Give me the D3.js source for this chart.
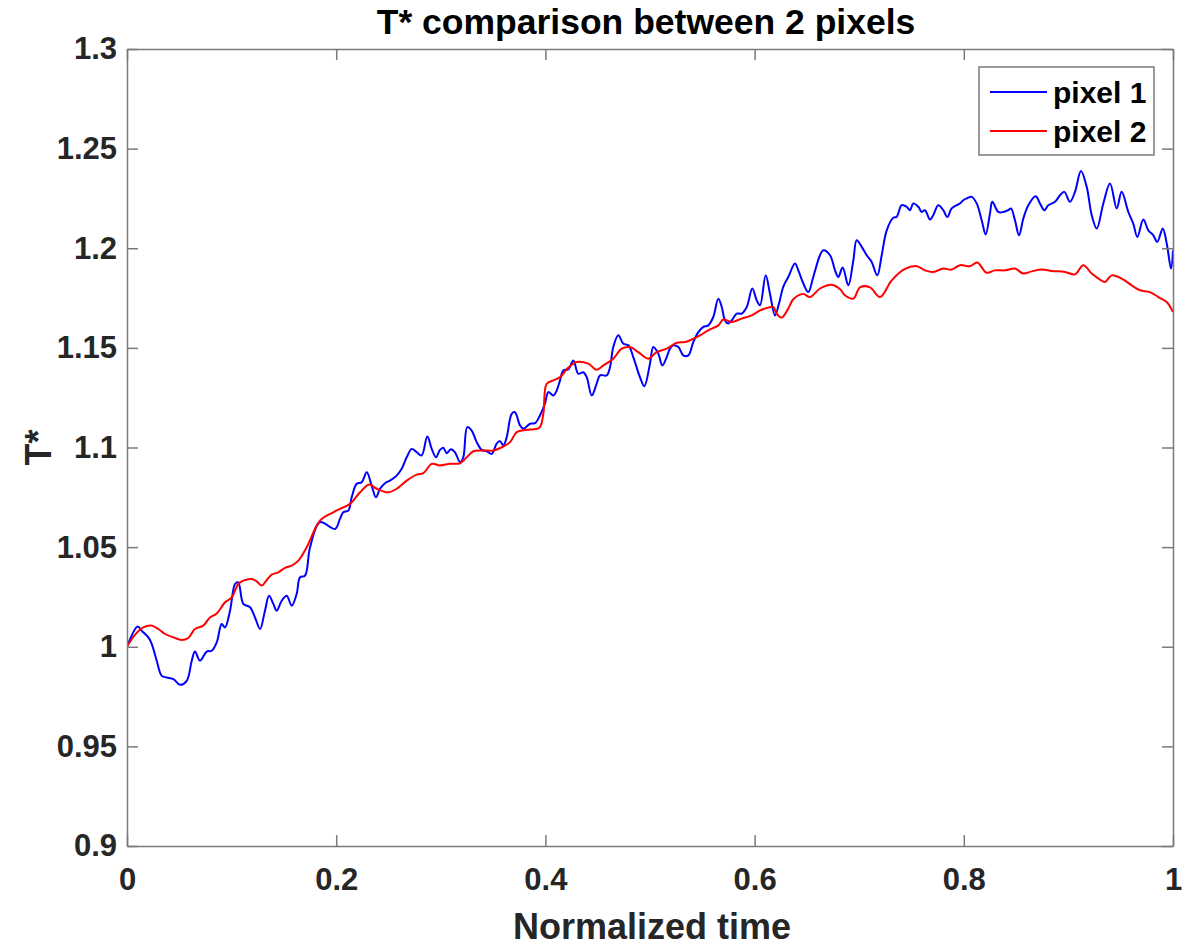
<!DOCTYPE html>
<html>
<head>
<meta charset="utf-8">
<script src="https://cdn.jsdelivr.net/npm/d3@7"></script>
<style>
  body { margin: 0; background: #fff; }
  text { font-family: "Liberation Sans", Arial, Helvetica, sans-serif; font-weight: bold; }
</style>
</head>
<body>
<svg id="chart" width="1193" height="947"></svg>
<script>
// pixel 1 (blue)
const timeP1 = [0, 0.0102, 0.0141, 0.0204, 0.0236, 0.0284, 0.0332, 0.0380, 0.0443, 0.0507, 0.0571, 0.0619, 0.0650, 0.0698, 0.0762, 0.0810, 0.0858, 0.0905, 0.0937, 0.0985,
  0.1033, 0.1064, 0.1112, 0.1176, 0.1224, 0.1272, 0.1319, 0.1358, 0.1399, 0.1431, 0.1479, 0.1527, 0.1575, 0.1622, 0.1654, 0.1702, 0.1750, 0.1845, 0.1989,
  0.2036, 0.2068, 0.2116, 0.2148, 0.2196, 0.2244, 0.2292, 0.2339, 0.2380, 0.2419, 0.2467, 0.2514, 0.2578, 0.2626, 0.2674, 0.2722, 0.2770, 0.2817, 0.2871, 0.2913, 0.2954, 0.2992,
  0.3024, 0.3056, 0.3095, 0.3136, 0.3184, 0.3215, 0.3253, 0.3295, 0.3343, 0.3391, 0.3439, 0.3487, 0.3534, 0.3566, 0.3598, 0.3630, 0.3678, 0.3709, 0.3757, 0.3789, 0.3853, 0.3901, 0.3948, 0.3996,
  0.4028, 0.4076, 0.4108, 0.4140, 0.4171, 0.4219, 0.4267, 0.4315, 0.4362, 0.4395, 0.4443, 0.4490, 0.4522, 0.4586, 0.4618, 0.4649, 0.4697, 0.4745, 0.4793, 0.4840, 0.4904, 0.4946,
  0.5000, 0.5032, 0.5079, 0.5118, 0.5160, 0.5191, 0.5223, 0.5271, 0.5318, 0.5366, 0.5414, 0.5462, 0.5510, 0.5557, 0.5605, 0.5653, 0.5686, 0.5717, 0.5749, 0.5781, 0.5829, 0.5877, 0.5925, 0.5978,
  0.6020, 0.6052, 0.6106, 0.6147, 0.6195, 0.6233, 0.6274, 0.6322, 0.6386, 0.6418, 0.6466, 0.6513, 0.6561, 0.6625, 0.6657, 0.6721, 0.6769, 0.6800, 0.6842, 0.6896, 0.6944, 0.6976,
  0.7024, 0.7072, 0.7119, 0.7173, 0.7215, 0.7263, 0.7326, 0.7358, 0.7406, 0.7454, 0.7486, 0.7517, 0.7565, 0.7598, 0.7629, 0.7677, 0.7708, 0.7756, 0.7804, 0.7842, 0.7884, 0.7932, 0.7964, 0.7995,
  0.8028, 0.8076, 0.8123, 0.8171, 0.8209, 0.8250, 0.8273, 0.8330, 0.8378, 0.8425, 0.8451, 0.8489, 0.8528, 0.8569, 0.8617, 0.8687, 0.8728, 0.8770, 0.8808, 0.8872, 0.8920, 0.8961,
  0.9015, 0.9063, 0.9120, 0.9175, 0.9223, 0.9271, 0.9334, 0.9398, 0.9462, 0.9509, 0.9573, 0.9620, 0.9659, 0.9716, 0.9764, 0.9812, 0.9850, 0.9902, 0.9940, 0.9981, 1.0];
const tempP1 = [1.0000, 1.0102, 1.0080, 1.0047, 1.0015, 0.9930, 0.9854, 0.9846, 0.9838, 0.9809, 0.9829, 0.9930, 0.9976, 0.9930, 0.9976, 0.9980, 1.0022, 1.0114, 1.0097, 1.0181,
  1.0315, 1.0323, 1.0215, 1.0198, 1.0147, 1.0089, 1.0181, 1.0256, 1.0215, 1.0181, 1.0231, 1.0256, 1.0206, 1.0265, 1.0348, 1.0357, 1.0499, 1.0625, 1.0591,
  1.0642, 1.0675, 1.0683, 1.0750, 1.0818, 1.0826, 1.0876, 1.0809, 1.0750, 1.0793, 1.0821, 1.0834, 1.0859, 1.0893, 1.0951, 1.0993, 1.0976, 1.0960, 1.1055, 1.0993, 1.0951, 1.0988,
  1.0999, 1.0971, 1.0991, 1.0976, 1.0926, 1.0951, 1.1102, 1.1085, 1.1027, 1.0988, 1.0981, 1.0968, 1.1019, 1.1032, 1.1010, 1.1052, 1.1169, 1.1177, 1.1111, 1.1094, 1.1119, 1.1122, 1.1161, 1.1220,
  1.1278, 1.1261, 1.1286, 1.1337, 1.1387, 1.1392, 1.1437, 1.1370, 1.1378, 1.1353, 1.1261, 1.1320, 1.1362, 1.1362, 1.1404, 1.1504, 1.1563, 1.1521, 1.1513, 1.1454, 1.1353, 1.1308,
  1.1421, 1.1504, 1.1471, 1.1412, 1.1454, 1.1496, 1.1513, 1.1504, 1.1462, 1.1462, 1.1529, 1.1579, 1.1605, 1.1613, 1.1655, 1.1747, 1.1705, 1.1638, 1.1622, 1.1638, 1.1672, 1.1672, 1.1705, 1.1798,
  1.1739, 1.1714, 1.1864, 1.1772, 1.1663, 1.1722, 1.1806, 1.1856, 1.1923, 1.1889, 1.1823, 1.1780, 1.1856, 1.1965, 1.1990, 1.1965, 1.1889, 1.1856, 1.1903, 1.1814, 1.1940, 1.2040,
  1.2007, 1.1965, 1.1931, 1.1864, 1.1965, 1.2090, 1.2153, 1.2157, 1.2216, 1.2208, 1.2191, 1.2225, 1.2208, 1.2182, 1.2191, 1.2144, 1.2166, 1.2216, 1.2191, 1.2157, 1.2200, 1.2216, 1.2225, 1.2241,
  1.2250, 1.2258, 1.2225, 1.2141, 1.2069, 1.2174, 1.2233, 1.2182, 1.2182, 1.2191, 1.2200, 1.2141, 1.2065, 1.2149, 1.2216, 1.2261, 1.2225, 1.2191, 1.2216, 1.2233, 1.2266, 1.2283,
  1.2233, 1.2283, 1.2388, 1.2308, 1.2166, 1.2099, 1.2225, 1.2325, 1.2200, 1.2283, 1.2182, 1.2124, 1.2057, 1.2144, 1.2090, 1.2065, 1.2032, 1.2099, 1.2024, 1.1898, 1.1990];

// pixel 2 (red)
const timeP2 = [0, 0.0076, 0.0156, 0.0236, 0.0299, 0.0363, 0.0443, 0.0523, 0.0586, 0.0650, 0.0729, 0.0793, 0.0858, 0.0937,
  0.1001, 0.1064, 0.1112, 0.1192, 0.1240, 0.1288, 0.1336, 0.1383, 0.1446, 0.1511, 0.1575, 0.1638, 0.1718, 0.1845, 0.1972,
  0.2036, 0.2132, 0.2228, 0.2316, 0.2387, 0.2498, 0.2578, 0.2674, 0.2770, 0.2833, 0.2913, 0.2992,
  0.3088, 0.3184, 0.3248, 0.3311, 0.3406, 0.3502, 0.3598, 0.3662, 0.3726, 0.3821, 0.3942, 0.3980,
  0.4012, 0.4076, 0.4140, 0.4219, 0.4299, 0.4410, 0.4490, 0.4554, 0.4649, 0.4729, 0.4809, 0.4888, 0.4984,
  0.5064, 0.5160, 0.5255, 0.5335, 0.5414, 0.5478, 0.5557, 0.5653, 0.5701, 0.5781, 0.5877, 0.5972,
  0.6052, 0.6131, 0.6179, 0.6211, 0.6259, 0.6322, 0.6370, 0.6466, 0.6530, 0.6625, 0.6737, 0.6817, 0.6864, 0.6944,
  0.7008, 0.7103, 0.7199, 0.7311, 0.7438, 0.7550, 0.7629, 0.7708, 0.7804, 0.7884, 0.7964,
  0.8059, 0.8129, 0.8219, 0.8298, 0.8394, 0.8489, 0.8569, 0.8649, 0.8745, 0.8841, 0.8967,
  0.9063, 0.9142, 0.9223, 0.9302, 0.9350, 0.9414, 0.9509, 0.9605, 0.9685, 0.9780, 0.9860, 0.9940, 1.0];
const tempP2 = [1.0000, 1.0060, 1.0097, 1.0106, 1.0089, 1.0064, 1.0047, 1.0034, 1.0044, 1.0089, 1.0106, 1.0147, 1.0167, 1.0223,
  1.0248, 1.0315, 1.0332, 1.0340, 1.0328, 1.0307, 1.0335, 1.0362, 1.0373, 1.0396, 1.0407, 1.0432, 1.0499, 1.0633, 1.0675,
  1.0692, 1.0717, 1.0775, 1.0814, 1.0793, 1.0775, 1.0793, 1.0834, 1.0864, 1.0871, 1.0918, 1.0910,
  1.0918, 1.0921, 1.0951, 1.0981, 1.0985, 1.0985, 1.1005, 1.1027, 1.1077, 1.1089, 1.1099, 1.1169,
  1.1320, 1.1337, 1.1353, 1.1401, 1.1429, 1.1421, 1.1390, 1.1412, 1.1446, 1.1496, 1.1504, 1.1479, 1.1446,
  1.1479, 1.1496, 1.1526, 1.1529, 1.1546, 1.1563, 1.1588, 1.1613, 1.1642, 1.1630, 1.1647, 1.1663,
  1.1688, 1.1702, 1.1705, 1.1672, 1.1652, 1.1697, 1.1744, 1.1770, 1.1755, 1.1798, 1.1817, 1.1794, 1.1764, 1.1747,
  1.1804, 1.1804, 1.1755, 1.1839, 1.1896, 1.1910, 1.1889, 1.1881, 1.1898, 1.1893, 1.1915,
  1.1910, 1.1928, 1.1877, 1.1889, 1.1889, 1.1898, 1.1873, 1.1884, 1.1893, 1.1886, 1.1881,
  1.1869, 1.1915, 1.1873, 1.1843, 1.1831, 1.1864, 1.1848, 1.1814, 1.1789, 1.1780, 1.1755, 1.1730, 1.1680];

const seriesNames = ["pixel 1", "pixel 2"];
const seriesColors = ["#0000ff", "#ff0000"];
const xTicks = [0, 0.2, 0.4, 0.6, 0.8, 1];
const yTicks = [0.9, 0.95, 1, 1.05, 1.1, 1.15, 1.2, 1.25, 1.3];

const largeur = 1193, hauteur = 947;
const margin = { top: 49, right: 20, bottom: 101, left: 127 };
const w = largeur - margin.left - margin.right,
      h = hauteur - margin.top - margin.bottom;

const svg = d3.select("#chart");
const g = svg.append("g").attr("transform", "translate(" + margin.left + "," + margin.top + ")");

const x = d3.scaleLinear().domain([0, 1]).range([0, w]);
const y = d3.scaleLinear().domain([0.9, 1.3]).range([h, 0]);
const fmt = d3.format("~g");

const axisColor = "#7a7a7a", txtColor = "#262626";

g.append("rect").attr("width", w).attr("height", h).attr("fill", "#fff");

g.append("clipPath").attr("id", "clip")
    .append("rect").attr("width", w).attr("height", h);

const line = d3.line()
    .x((d) => x(d[0]))
    .y((d) => y(d[1]))
    .curve(d3.curveCatmullRom.alpha(0.5));

const series = [
    d3.zip(timeP1, tempP1),
    d3.zip(timeP2, tempP2)
];

g.append("g").attr("clip-path", "url(#clip)")
    .selectAll("path")
    .data(series)
    .enter()
    .append("path")
    .attr("d", line)
    .attr("fill", "none")
    .attr("stroke", (d, i) => seriesColors[i])
    .attr("stroke-width", 2)
    .attr("stroke-linejoin", "round");

// axes, ticks pointing inward on all four sides
const styleAxis = (sel) => {
    sel.select(".domain").attr("stroke", axisColor).attr("stroke-width", 1.5);
    sel.selectAll(".tick line").attr("stroke", axisColor).attr("stroke-width", 1.5);
    sel.selectAll(".tick text").attr("fill", txtColor).style("font-size", "31px").style("font-weight", "bold");
};

g.append("g").attr("transform", "translate(0," + h + ")")
    .call(d3.axisBottom(x).tickValues(xTicks).tickFormat(fmt).tickSizeInner(-11).tickSizeOuter(0).tickPadding(22))
    .call(styleAxis);
g.append("g")
    .call(d3.axisTop(x).tickValues(xTicks).tickFormat("").tickSizeInner(-11).tickSizeOuter(0))
    .call(styleAxis);
g.append("g")
    .call(d3.axisLeft(y).tickValues(yTicks).tickFormat(fmt).tickSizeInner(-11).tickSizeOuter(0).tickPadding(10))
    .call(styleAxis);
g.append("g").attr("transform", "translate(" + w + ",0)")
    .call(d3.axisRight(y).tickValues(yTicks).tickFormat("").tickSizeInner(-11).tickSizeOuter(0))
    .call(styleAxis);

// title and labels
svg.append("text")
    .attr("x", margin.left + w / 2 - 4).attr("y", 34)
    .attr("text-anchor", "middle")
    .style("font-size", "35.5px").attr("fill", "#000")
    .text("T* comparison between 2 pixels");

svg.append("text")
    .attr("x", margin.left + w / 2 + 2).attr("y", 939)
    .attr("text-anchor", "middle")
    .style("font-size", "36px").attr("fill", txtColor)
    .text("Normalized time");

svg.append("text")
    .attr("transform", "translate(51," + (margin.top + h / 2) + ") rotate(-90)")
    .attr("text-anchor", "middle")
    .style("font-size", "36px").attr("fill", txtColor)
    .text("T*");

// legend
const legend = svg.append("g").attr("transform", "translate(979,67)");
legend.append("rect")
    .attr("width", 175).attr("height", 88)
    .attr("fill", "#fff").attr("stroke", axisColor).attr("stroke-width", 1.5);

const items = legend.selectAll(".item")
    .data(seriesNames)
    .enter()
    .append("g")
    .attr("class", "item")
    .attr("transform", (d, i) => "translate(0," + (25 + 39 * i) + ")");

items.append("line")
    .attr("x1", 11).attr("x2", 68)
    .attr("stroke", (d, i) => seriesColors[i])
    .attr("stroke-width", 2);

items.append("text")
    .attr("x", 74).attr("y", 11)
    .style("font-size", "30px").attr("fill", "#000")
    .text((d) => d);
</script>
</body>
</html>
